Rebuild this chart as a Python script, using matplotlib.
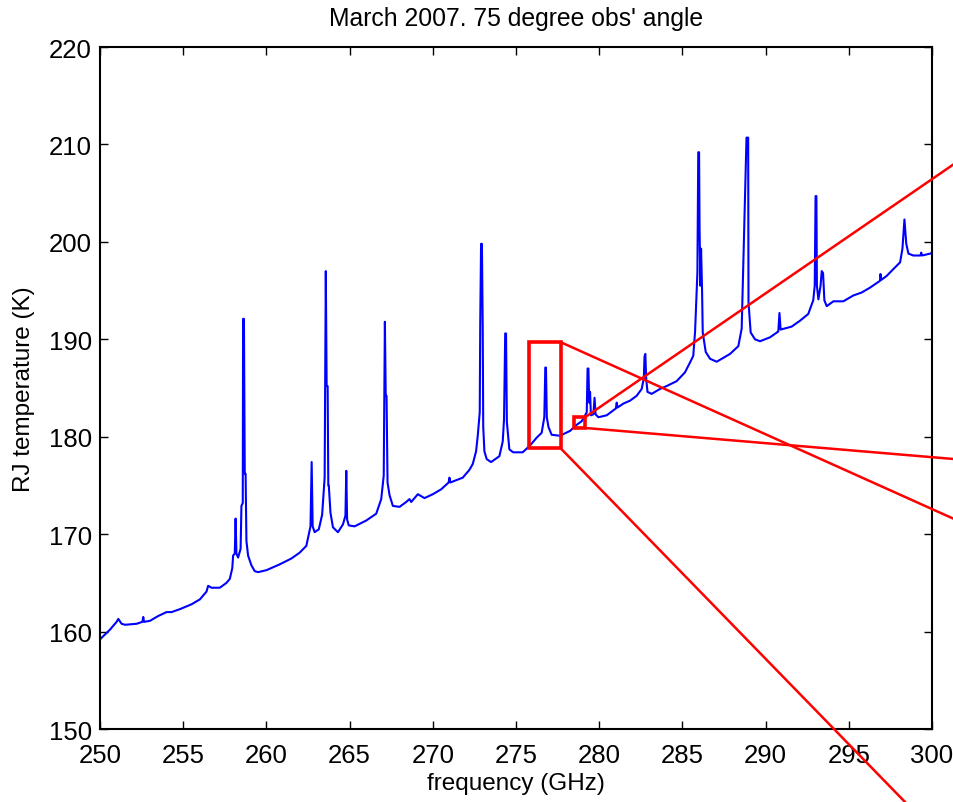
import matplotlib
matplotlib.use("Agg")
import matplotlib.pyplot as plt
from matplotlib.patches import Rectangle

plt.rcParams['font.family'] = ['Liberation Sans', 'DejaVu Sans']

# Spectrum: frequency (GHz) and Rayleigh-Jeans brightness temperature (K)
freq_ghz = [
    250.0, 250.6, 251.0, 251.1, 251.3, 251.5, 252.2, 252.55, 252.6, 252.65,
    253.0, 253.5, 254.0, 254.3, 254.8, 255.5, 256.0, 256.4, 256.5, 256.7,
    257.2, 257.6, 257.8, 257.95, 258.0, 258.1, 258.15, 258.2, 258.3, 258.45,
    258.5, 258.58, 258.6, 258.65, 258.7, 258.75, 258.8, 258.9, 259.1, 259.3,
    259.5, 260.0, 260.8, 261.5, 262.0, 262.4, 262.55, 262.65, 262.72, 262.78,
    262.9, 263.15, 263.35, 263.5, 263.57, 263.62, 263.68, 263.72, 263.75, 263.85,
    264.0, 264.3, 264.6, 264.75, 264.8, 264.85, 264.95, 265.3, 266.0, 266.6,
    266.9, 267.05, 267.12, 267.17, 267.22, 267.28, 267.4, 267.6, 268.0, 268.4,
    268.6, 268.7, 269.1, 269.5, 270.0, 270.5, 270.95, 271.0, 271.05, 271.8,
    272.2, 272.4, 272.6, 272.7, 272.82, 272.85, 272.9, 272.95, 273.0, 273.03,
    273.1, 273.24, 273.5, 274.0, 274.2, 274.28, 274.35, 274.4, 274.45, 274.6,
    274.83, 275.4, 275.84, 276.24, 276.54, 276.7, 276.76, 276.8, 276.85, 276.95,
    277.14, 277.64, 278.25, 278.55, 278.95, 279.25, 279.3, 279.35, 279.4, 279.45,
    279.5, 279.65, 279.72, 279.78, 279.95, 280.45, 281.0, 281.05, 281.1, 281.45,
    281.85, 282.25, 282.55, 282.68, 282.72, 282.77, 282.82, 282.9, 283.15, 283.65,
    284.05, 284.65, 285.15, 285.45, 285.65, 285.76, 285.9, 285.95, 286.0, 286.03,
    286.08, 286.12, 286.18, 286.22, 286.4, 286.66, 287.06, 287.86, 288.36, 288.56,
    288.72, 288.85, 288.95, 288.97, 289.1, 289.36, 289.66, 290.26, 290.76, 290.83,
    290.9, 291.56, 292.06, 292.56, 292.86, 292.95, 293.0, 293.05, 293.08, 293.17,
    293.3, 293.37, 293.45, 293.53, 293.67, 294.07, 294.67, 295.27, 295.77, 296.27,
    296.87, 296.9, 296.95, 297.27, 297.67, 298.08, 298.22, 298.34, 298.45, 298.58,
    298.87, 299.3, 299.35, 299.4, 299.9, 300.0,
]
temp_k = [
    159.2, 160.2, 161.0, 161.3, 160.8, 160.7, 160.8, 161.0, 161.5, 161.0,
    161.1, 161.6, 162.0, 162.0, 162.3, 162.8, 163.3, 164.1, 164.7, 164.5,
    164.5, 165.0, 165.4, 166.5, 167.8, 168.0, 171.6, 168.0, 167.6, 168.5,
    172.9, 173.2, 192.1, 192.1, 176.2, 176.2, 169.3, 167.8, 166.8, 166.2,
    166.1, 166.3, 166.9, 167.5, 168.1, 168.8, 170.0, 170.8, 177.4, 170.8,
    170.2, 170.5, 172.0, 175.8, 197.0, 185.2, 185.2, 175.0, 175.0, 172.2,
    170.7, 170.2, 171.0, 171.9, 176.5, 171.5, 170.9, 170.8, 171.4, 172.1,
    173.6, 176.0, 191.8, 184.2, 184.2, 175.3, 174.0, 172.9, 172.8, 173.3,
    173.6, 173.3, 174.1, 173.7, 174.1, 174.6, 175.3, 175.8, 175.3, 175.8,
    176.6, 177.2, 178.5, 180.1, 182.5, 191.7, 199.8, 199.8, 191.0, 181.0,
    178.5, 177.7, 177.4, 178.0, 179.5, 181.8, 190.6, 190.6, 181.5, 178.7,
    178.4, 178.4, 179.1, 179.9, 180.4, 182.0, 187.1, 187.1, 182.0, 181.0,
    180.2, 180.1, 180.6, 181.1, 181.6, 182.5, 187.0, 187.0, 183.5, 184.6,
    182.2, 182.3, 184.0, 182.3, 182.0, 182.2, 182.9, 183.5, 183.0, 183.4,
    183.7, 184.2, 184.9, 186.0, 188.2, 188.5, 186.0, 184.6, 184.4, 184.9,
    185.2, 185.7, 186.6, 187.6, 188.3, 190.8, 196.9, 209.2, 209.2, 201.3,
    195.5, 199.3, 195.0, 190.7, 188.7, 188.0, 187.7, 188.5, 189.3, 191.1,
    202.0, 210.7, 210.7, 193.8, 190.7, 190.0, 189.8, 190.2, 190.8, 192.7,
    191.0, 191.3, 191.9, 192.6, 194.0, 195.5, 204.7, 204.7, 195.5, 194.1,
    195.5, 197.0, 196.8, 194.0, 193.4, 193.9, 193.9, 194.5, 194.8, 195.3,
    196.0, 196.7, 196.1, 196.5, 197.2, 197.9, 199.3, 202.3, 199.8, 198.8,
    198.6, 198.6, 198.9, 198.6, 198.8, 198.9,
]

# Zoom boxes: (freq_start, temp_start, width_ghz, height_k)
zoom_boxes = [
    (275.8, 178.8, 1.89, 10.9),
    (278.49, 180.9, 0.66, 1.1),
]

# Connector lines leading from the boxes out of the plot: (x0, y0, x1, y1)
connectors = [
    (277.69, 189.7, 301.32, 171.56),
    (277.69, 178.8, 298.38, 142.5),
    (279.15, 182.0, 301.32, 207.99),
    (279.15, 180.9, 301.32, 177.71),
]

x_ticks = list(range(250, 301, 5))
y_ticks = list(range(150, 221, 10))

fig = plt.figure(figsize=(9.54, 8.03), dpi=100)
ax = fig.add_axes([0.1048, 0.0909, 0.8722, 0.8493])

ax.plot(freq_ghz, temp_k, color='#0000ff', lw=1.5)

for x0, y0, w, h in zoom_boxes:
    ax.add_patch(Rectangle((x0, y0), w, h, fill=False, edgecolor='#ff0000',
                           lw=2.6, zorder=3))

for x0, y0, x1, y1 in connectors:
    ax.plot([x0, x1], [y0, y1], color='#ff0000', lw=1.8, clip_on=False,
            zorder=3)

ax.set_xlim(250, 300)
ax.set_ylim(150, 220)
ax.set_xticks(x_ticks)
ax.set_yticks(y_ticks)
ax.tick_params(direction='in', length=6, width=1.0, top=True, right=True,
               labelsize=18.5)
ax.tick_params(axis='x', pad=10)
ax.tick_params(axis='y', pad=6)
for s in ax.spines.values():
    s.set_linewidth(1.5)

ax.set_xlabel('frequency (GHz)', fontsize=17.5, labelpad=4)
ax.set_ylabel('RJ temperature (K)', fontsize=17.5, labelpad=10)
ax.set_title("March 2007. 75 degree obs' angle", fontsize=17.8, pad=16)

fig.savefig('out.png', dpi=100)
